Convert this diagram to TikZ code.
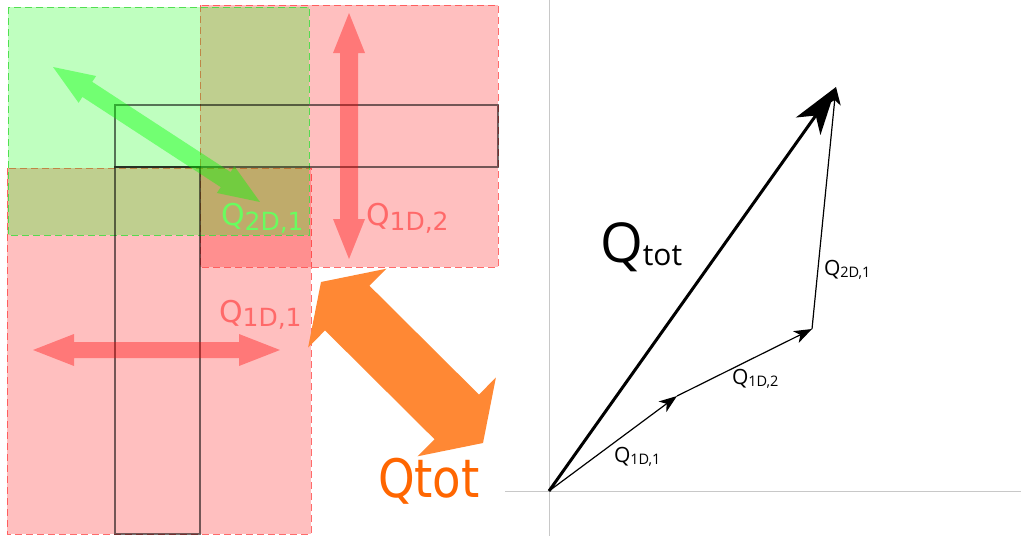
\documentclass[tikz,border=0pt]{standalone}
\usepackage{fontspec}
\setmainfont{DejaVu Sans}
\newfontfamily\lfont{DejaVu Sans}
\newfontfamily\nfont[FakeStretch=0.88]{DejaVu Sans}
\newfontfamily\rfont{Open Sans}
\usetikzlibrary{arrows.meta}
\definecolor{pred}{RGB}{255,0,0}
\definecolor{pgreen}{RGB}{0,255,0}
\definecolor{redline}{RGB}{255,70,70}
\definecolor{greenline}{RGB}{70,220,70}
\definecolor{orangearr}{RGB}{255,136,52}
\definecolor{orangetxt}{RGB}{255,102,0}
\definecolor{greentxt}{RGB}{105,252,95}
\definecolor{redtxt}{RGB}{255,105,105}
\definecolor{axisgray}{RGB}{200,200,200}
\newcommand\fatarrow[8]{%
  \pgfmathsetmacro\faang{atan2((#3)-(#5),(#4)-(#2))}%
  \pgfmathsetmacro\falen{veclen((#4)-(#2),(#5)-(#3))}%
  \pgfmathsetmacro\faback{\falen-(#8)}%
  \begin{scope}[shift={(#2,#3)},rotate=\faang]
    \fill[#1] (0,0) -- (#8,#7) -- (#8,#6) -- (\faback,#6) -- (\faback,#7) -- (\falen,0)
      -- (\faback,-#7) -- (\faback,-#6) -- (#8,-#6) -- (#8,-#7) -- cycle;
  \end{scope}}
\tikzset{
  redbox/.style={fill=pred, fill opacity=0.25, draw=redline, draw opacity=0.8, line width=0.9pt, dash pattern=on 7pt off 4pt},
  greenbox/.style={fill=pgreen, fill opacity=0.25, draw=greenline, draw opacity=0.9, line width=0.9pt, dash pattern=on 7pt off 4pt},
  tbox/.style={draw=black, draw opacity=0.55, line width=1.3pt},
  redarrow/.style={fill=pred, fill opacity=0.37},
  greenarrow/.style={fill=pgreen, fill opacity=0.4},
  orangearrow/.style={fill=orangearr},
  lab/.style={anchor=base west, inner sep=0pt, outer sep=0pt},
  axis/.style={draw=axisgray, line width=1pt},
  vec/.style={line width=1.2pt, -{Stealth[length=18pt,width=13pt,inset=5pt]}},
  bigvec/.style={line width=3pt, -{Stealth[length=48pt,width=30pt,inset=13pt]}}
}
\begin{document}
\begin{tikzpicture}[x=1pt,y=-1pt]
\useasboundingbox (0,0) rectangle (1023,536);
\fill[white] (0,0) rectangle (1023,536);
% ---------- left part: regions ----------
\path[redbox] (7,168) rectangle (311,534);
\path[redbox] (200,5) rectangle (498,267);
\path[greenbox] (8,7) rectangle (309,235);
\path[tbox] (115,105) rectangle (498,167);
\path[tbox] (115,167) rectangle (200,534);
% ---------- fat arrows ----------
\fatarrow{greenarrow}{53}{67}{260}{202}{9}{16}{41}
\fatarrow{redarrow}{349}{13}{349}{259}{9}{16}{40}
\fatarrow{redarrow}{33}{350}{280}{350}{8}{16}{41}
\fatarrow{orangearrow}{321}{282}{483}{443}{31.5}{55.5}{37}
% ---------- left labels ----------
\node[lab, text=greentxt] (l2d) at (221,225) {\lfont{\fontsize{30}{30}\selectfont Q}\raisebox{-5pt}{\fontsize{25}{25}\selectfont 2D,1}};
\node[lab, text=redtxt] (l1d2) at (366,225) {\lfont{\fontsize{30}{30}\selectfont Q}\raisebox{-5pt}{\fontsize{25}{25}\selectfont 1D,2}};
\node[lab, text=redtxt] (l1d1) at (219,322) {\lfont{\fontsize{30}{30}\selectfont Q}\raisebox{-4pt}{\fontsize{25}{25}\selectfont 1D,1}};
\node[lab, text=orangetxt] (ltot) at (378,497) {\nfont\fontsize{53}{53}\selectfont Qtot};
% ---------- right part: vector sum ----------
\coordinate (ytop) at (549,0);
\coordinate (ybot) at (549,536);
\coordinate (xl) at (505,491);
\coordinate (xr) at (1021,491);
\draw[axis] (ytop) -- (ybot);
\draw[axis] (xl) -- (xr);
\coordinate (O) at (549,491);
\coordinate (P1) at (677,396);
\coordinate (P2) at (812,329);
\coordinate (T) at (836,87);
\draw[vec] (O) -- (P1);
\draw[vec] (P1) -- (P2);
\draw[vec] (P2) -- (T);
\draw[bigvec] (O) -- (T);
\node[lab] (rtot) at (600,262) {\rfont{\fontsize{55}{55}\selectfont Q}\raisebox{-3pt}{\fontsize{30}{30}\selectfont tot}};
\node[lab] (r1d1) at (614,462) {\rfont{\fontsize{21}{21}\selectfont Q}\raisebox{-2pt}{\fontsize{14.5}{14.5}\selectfont 1D,1}};
\node[lab] (r1d2) at (732,384) {\rfont{\fontsize{21}{21}\selectfont Q}\raisebox{-2pt}{\fontsize{14.5}{14.5}\selectfont 1D,2}};
\node[lab] (r2d1) at (824,275) {\rfont{\fontsize{21}{21}\selectfont Q}\raisebox{-2pt}{\fontsize{14.5}{14.5}\selectfont 2D,1}};
\end{tikzpicture}
\end{document}
